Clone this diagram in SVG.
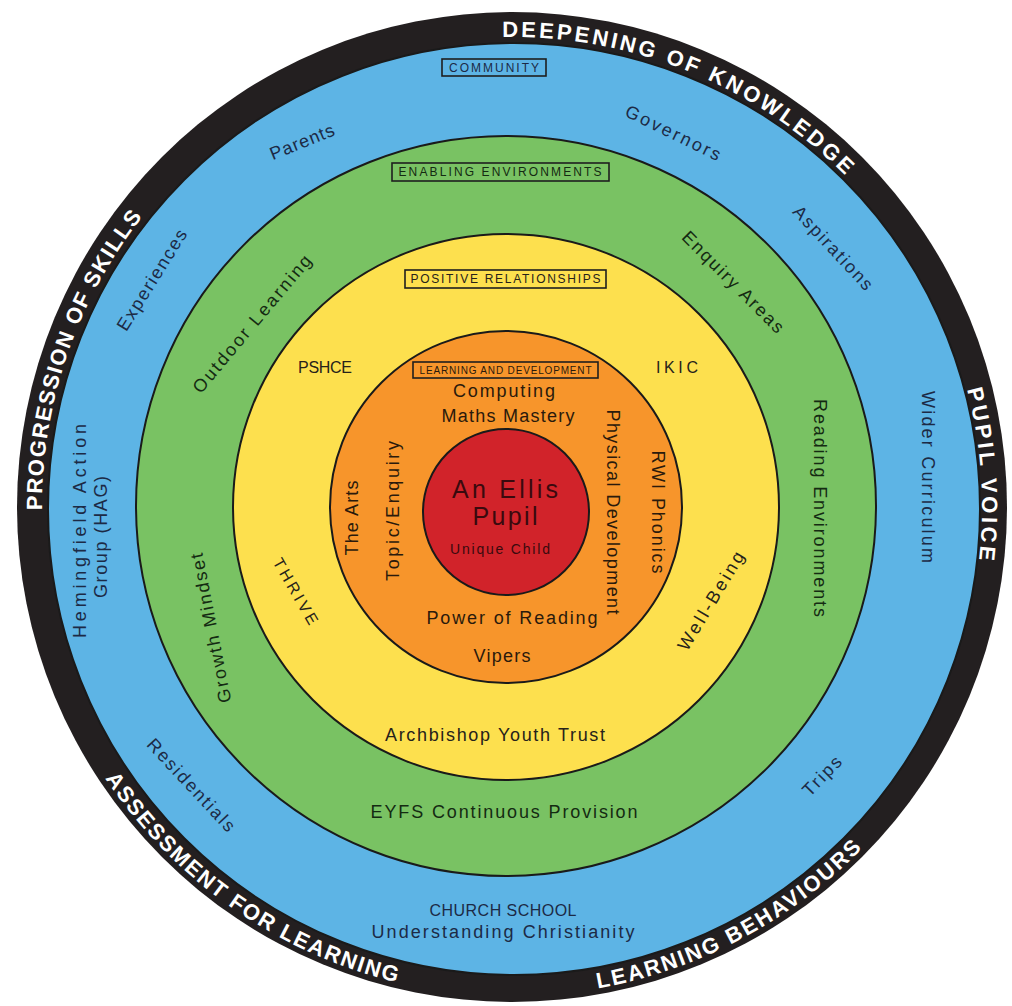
<svg xmlns="http://www.w3.org/2000/svg" width="1012" height="1006" viewBox="0 0 1012 1006">
<style>
.ring{stroke:#1a1a1a;stroke-width:2}
.t{font-family:"Liberation Sans","DejaVu Sans",sans-serif;font-size:18px;text-anchor:middle}
.band{font-family:"Liberation Sans","DejaVu Sans",sans-serif;font-size:22px;font-weight:bold;fill:#ffffff}
.bx{fill:none;stroke:#1e1e1e;stroke-width:1.6}
.bt{font-size:12px}
.cap{font-size:16px}
.cb{fill:#1c2a45}
.cg{fill:#142a12}
.cy{fill:#26221a}
.co{fill:#2a1a0c}
.cr{fill:#3a0a0e}
</style>
<defs>
<path id="p1" d="M 502.2 37.1 A 470 470 0 0 1 847.8 178.1"/>
<path id="p2" d="M 967.0 389.3 A 470 470 0 0 1 978.8 561.8"/>
<path id="p3" d="M 42.0 510.3 A 470 470 0 0 1 143.7 215.1"/>
<path id="p4" d="M 105.2 778.3 A 489 489 0 0 0 400.3 983.1"/>
<path id="p5" d="M 597.8 988.4 A 489 489 0 0 0 863.8 846.7"/>
</defs>
<rect width="1012" height="1006" fill="#ffffff"/>

<g id="outer-band">
<circle cx="512" cy="507" r="495" fill="#231f20"/>
<text class="band"><textPath href="#p1" textLength="380" lengthAdjust="spacing">DEEPENING OF KNOWLEDGE</textPath></text>
<text class="band"><textPath href="#p2" textLength="172" lengthAdjust="spacing">PUPIL VOICE</textPath></text>
<text class="band"><textPath href="#p3" textLength="316" lengthAdjust="spacing">PROGRESSION OF SKILLS</textPath></text>
<text class="band"><textPath href="#p4" textLength="364" lengthAdjust="spacing">ASSESSMENT FOR LEARNING</textPath></text>
<text class="band"><textPath href="#p5" textLength="304" lengthAdjust="spacing">LEARNING BEHAVIOURS</textPath></text>
</g>

<g id="community">
<circle class="ring" cx="514" cy="509" r="466" fill="#5db4e5"/>
<rect class="bx" x="442" y="59" width="104" height="17"/>
<text class="t bt cb" x="494" y="72" textLength="90" lengthAdjust="spacing">COMMUNITY</text>
<text class="t cb" transform="translate(302,142) rotate(-22)" y="6" textLength="68" lengthAdjust="spacing">Parents</text>
<text class="t cb" transform="translate(673,133) rotate(26)" y="6" textLength="104" lengthAdjust="spacing">Governors</text>
<text class="t cb" transform="translate(833,248) rotate(47)" y="6" textLength="108" lengthAdjust="spacing">Aspirations</text>
<text class="t cb" transform="translate(152,280) rotate(-58)" y="6" textLength="116" lengthAdjust="spacing">Experiences</text>
<text class="t cb" transform="translate(80,531) rotate(-90)" y="6" textLength="214" lengthAdjust="spacing">Hemingfield Action</text>
<text class="t cb" transform="translate(101,537) rotate(-90)" y="6" textLength="122" lengthAdjust="spacing">Group (HAG)</text>
<text class="t cb" transform="translate(928,477) rotate(90)" y="6" textLength="172" lengthAdjust="spacing">Wider Curriculum</text>
<text class="t cb" transform="translate(191,785) rotate(47)" y="6" textLength="120" lengthAdjust="spacing">Residentials</text>
<text class="t cb" transform="translate(822,776) rotate(-46)" y="6" textLength="48" lengthAdjust="spacing">Trips</text>
<text class="t cap cb" x="503" y="916" textLength="147" lengthAdjust="spacing">CHURCH SCHOOL</text>
<text class="t cb" x="503" y="938" textLength="263" lengthAdjust="spacing">Understanding Christianity</text>
</g>

<g id="enabling-environments">
<circle class="ring" cx="506" cy="506" r="370" fill="#79c263"/>
<rect class="bx" x="392" y="163" width="217" height="18"/>
<text class="t bt cg" x="500" y="176" textLength="203" lengthAdjust="spacing">ENABLING ENVIRONMENTS</text>
<text class="t cg" transform="translate(252,324) rotate(-50)" y="6" textLength="174" lengthAdjust="spacing">Outdoor Learning</text>
<text class="t cg" transform="translate(733,282) rotate(45)" y="6" textLength="136" lengthAdjust="spacing">Enquiry Areas</text>
<text class="t cg" transform="translate(820,508) rotate(90)" y="6" textLength="218" lengthAdjust="spacing">Reading Environments</text>
<text class="t cg" transform="translate(211,628) rotate(-101)" y="6" textLength="152" lengthAdjust="spacing">Growth Mindset</text>
<text class="t cg" x="504" y="818" textLength="267" lengthAdjust="spacing">EYFS Continuous Provision</text>
</g>

<g id="positive-relationships">
<circle class="ring" cx="506" cy="507" r="273" fill="#fde04e"/>
<rect class="bx" x="405" y="270" width="201" height="18"/>
<text class="t bt cy" x="505.5" y="283" textLength="190" lengthAdjust="spacing">POSITIVE RELATIONSHIPS</text>
<text class="t cap cy" x="325" y="373" textLength="54" lengthAdjust="spacing">PSHCE</text>
<text class="t cap cy" x="677" y="373" textLength="42" lengthAdjust="spacing">IKIC</text>
<text class="t cap cy" transform="translate(296,591) rotate(60)" y="6" textLength="74" lengthAdjust="spacing">THRIVE</text>
<text class="t cy" transform="translate(711,601) rotate(-59)" y="6" textLength="112" lengthAdjust="spacing">Well-Being</text>
<text class="t cy" x="495" y="741" textLength="220" lengthAdjust="spacing">Archbishop Youth Trust</text>
</g>

<g id="learning-and-development">
<circle class="ring" cx="506" cy="507" r="176" fill="#f7952b"/>
<rect class="bx" x="413" y="362" width="185" height="16"/>
<text class="t co" style="font-size:10px" x="505.5" y="374" textLength="172" lengthAdjust="spacing">LEARNING AND DEVELOPMENT</text>
<text class="t co" x="504" y="397" textLength="102" lengthAdjust="spacing">Computing</text>
<text class="t co" x="508" y="422" textLength="133" lengthAdjust="spacing">Maths Mastery</text>
<text class="t co" transform="translate(352,518) rotate(-90)" y="6" textLength="75" lengthAdjust="spacing">The Arts</text>
<text class="t co" transform="translate(393,511) rotate(-90)" y="6" textLength="140" lengthAdjust="spacing">Topic/Enquiry</text>
<text class="t co" transform="translate(613,512) rotate(90)" y="6" textLength="205" lengthAdjust="spacing">Physical Development</text>
<text class="t co" transform="translate(658,512) rotate(90)" y="6" textLength="123" lengthAdjust="spacing">RWI Phonics</text>
<text class="t co" x="512" y="624" textLength="171" lengthAdjust="spacing">Power of Reading</text>
<text class="t co" x="502" y="662" textLength="57" lengthAdjust="spacing">Vipers</text>
</g>

<g id="unique-child">
<circle class="ring" cx="506" cy="512" r="83" fill="#d1232a"/>
<text class="t cr" style="font-size:25px" x="505" y="498" textLength="106" lengthAdjust="spacing">An Ellis</text>
<text class="t cr" style="font-size:25px" x="505" y="525" textLength="65" lengthAdjust="spacing">Pupil</text>
<text class="t cr" style="font-size:14px" x="500" y="554" textLength="100" lengthAdjust="spacing">Unique Child</text>
</g>
</svg>
